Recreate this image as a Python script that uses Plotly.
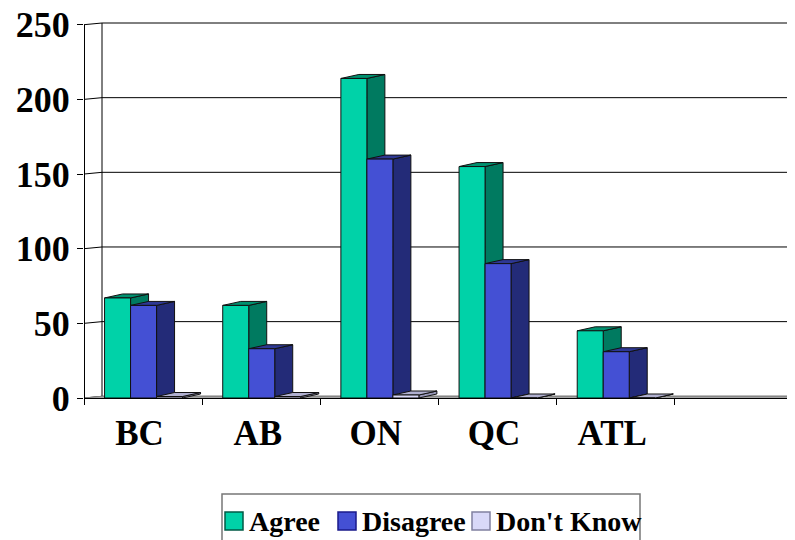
import plotly.graph_objects as go

# ---- data ----
categories = ["BC", "AB", "ON", "QC", "ATL", ""]
series_names = ["Agree", "Disagree", "Don't Know"]
agree = [67, 62, 214, 155, 45, None]
disagree = [62, 33, 160, 90, 31, None]
dont_know = [1, 1, 2, 0, 0, None]
y_ticks = [0, 50, 100, 150, 200, 250]

# ---- style / geometry ----
# the page body has an 8px default margin, so figure pixel = screen pixel - 8
OFF = 8
W, H = 795 - OFF, 540 - OFF
plot_left, plot_right, plot_top, plot_bottom = 84 - OFF, 793 - OFF, 17 - OFF, 398 - OFF
ML, MR, MT, MB = plot_left, W - plot_right, plot_top, H - plot_bottom
plot_w = W - ML - MR
plot_h = H - MT - MB
x_range = [-0.5, len(categories) - 0.5]
px_per_x = plot_w / (x_range[1] - x_range[0])
px_per_y = 373.3 / 250.0
y_range = [0, plot_h / px_per_y]

bar_w = 26 / px_per_x
bar_dx = 18 / px_per_x
bar_dy = 4 / px_per_y
wall_dx = 18 / px_per_x
wall_dy = 1.7 / px_per_y
offsets = [-0.326, -0.326 + bar_w, -0.326 + 2 * bar_w]
half_px = 0.5 / px_per_x

colors = {
    "Agree": dict(front="#00D2A8", side="#007A60", top="#00906F", edge="#005A46"),
    "Disagree": dict(front="#4450D4", side="#232B78", top="#2E3894", edge="#1A1A8A"),
    "Don't Know": dict(front="#D8D8F8", side="#9898B8", top="#B0B0D0", edge="#8080A0"),
}
font_family = "Liberation Serif, Times New Roman, serif"

fig = go.Figure()
shapes = []

# back wall gridlines and wall edge (layout shapes on the data axes, below traces)
for v in y_ticks:
    shapes.append(dict(type="line", xref="x", yref="y", layer="below",
                       x0=x_range[0], y0=v, x1=x_range[0] + wall_dx, y1=v + wall_dy,
                       line=dict(color="#000000", width=1)))
    shapes.append(dict(type="line", xref="x", yref="y", layer="below",
                       x0=x_range[0] + wall_dx, y0=v + wall_dy, x1=x_range[1], y1=v + wall_dy,
                       line=dict(color="#000000", width=1)))
shapes.append(dict(type="line", xref="x", yref="y", layer="below",
                   x0=x_range[0] + wall_dx, y0=wall_dy, x1=x_range[0] + wall_dx,
                   y1=y_ticks[-1] + wall_dy, line=dict(color="#000000", width=1)))

# floor
fig.add_trace(go.Scatter(
    x=[x_range[0], x_range[1], x_range[1], x_range[0] + wall_dx, x_range[0]],
    y=[0, 0, wall_dy, wall_dy, 0],
    mode="lines", fill="toself", fillcolor="#C8C8C8",
    line=dict(color="#808080", width=1), hoverinfo="skip", showlegend=False))

all_values = [agree, disagree, dont_know]
for s, (name, vals) in enumerate(zip(series_names, all_values)):
    fx, fy, sx, sy, tx, ty = [], [], [], [], [], []
    for i, v in enumerate(vals):
        if v is None:
            continue
        x0 = i + offsets[s]
        x1 = x0 + bar_w
        fx += [x0, x1, x1, x0, x0, None]
        fy += [0, 0, v, v, 0, None]
        sx += [x1, x1 + bar_dx, x1 + bar_dx, x1, x1, None]
        sy += [0, bar_dy, v + bar_dy, v, 0, None]
        tx += [x0, x1, x1 + bar_dx, x0 + bar_dx, x0, None]
        ty += [v, v, v + bar_dy, v + bar_dy, v, None]
    c = colors[name]
    for xs, ys, col in [(sx, sy, c["side"]), (tx, ty, c["top"]), (fx, fy, c["front"])]:
        fig.add_trace(go.Scatter(x=xs, y=ys, mode="lines", fill="toself", fillcolor=col,
                                 line=dict(color="#111111", width=1),
                                 hoverinfo="skip", showlegend=False))

# front value-axis line (only up to the top tick)
fig.add_trace(go.Scatter(x=[x_range[0] + half_px, x_range[0] + half_px], y=[0, y_ticks[-1]],
                         mode="lines", line=dict(color="#000000", width=1),
                         hoverinfo="skip", showlegend=False))

# ---- custom legend (screen pixel layout converted to paper coords) ----
def px_x(p):
    return (p - OFF - ML) / plot_w

def px_y(p):
    return (H - MB - (p - OFF)) / plot_h

legend_box = (222, 494, 640, 560)
legend_keys = [(225, 247), (338, 360), (472, 494)]  # (square left, text left)
key_size = 18
key_top = 512
shapes.append(dict(type="rect", xref="paper", yref="paper",
                   x0=px_x(legend_box[0]), x1=px_x(legend_box[2]),
                   y0=px_y(legend_box[3]), y1=px_y(legend_box[1]),
                   line=dict(color="#777777", width=1.5), fillcolor="white", layer="above"))
annotations = []
for name, (sq, tx_) in zip(series_names, legend_keys):
    shapes.append(dict(type="rect", xref="paper", yref="paper",
                       x0=px_x(sq), x1=px_x(sq + key_size),
                       y0=px_y(key_top + key_size), y1=px_y(key_top),
                       line=dict(color=colors[name]["edge"], width=1.5),
                       fillcolor=colors[name]["front"], layer="above"))
    annotations.append(dict(xref="paper", yref="paper", x=px_x(tx_), y=px_y(521),
                            xanchor="left", yanchor="middle", text=name, showarrow=False,
                            font=dict(family=font_family, size=28, color="black", weight="bold")))

fig.update_layout(
    width=W, height=H,
    margin=dict(l=ML, r=MR, t=MT, b=MB, autoexpand=False),
    paper_bgcolor="white", plot_bgcolor="white",
    font=dict(family=font_family, color="black"),
    showlegend=False,
    shapes=shapes, annotations=annotations,
    xaxis=dict(range=x_range, showgrid=False, zeroline=False, automargin=False,
               tickvals=[i - 0.03 for i in range(len(categories) - 1)],
               ticktext=categories[:-1], ticks="",
               tickfont=dict(family=font_family, size=35, color="black", weight="bold"),
               ticklabelstandoff=4, ticklabeloverflow="allow",
               showline=True, linecolor="black", linewidth=1,
               minor=dict(tickvals=[i - 0.5 for i in range(len(categories) + 1)],
                          ticks="outside", ticklen=6, tickcolor="black", tickwidth=1)),
    yaxis=dict(range=y_range, showgrid=False, zeroline=False, automargin=False,
               tickvals=y_ticks, ticks="outside", ticklen=6, tickcolor="black",
               tickfont=dict(family=font_family, size=36, color="black", weight="bold"),
               ticklabeloverflow="allow",
               showline=False),
)

fig.write_html("out.html", config={"displayModeBar": False})
